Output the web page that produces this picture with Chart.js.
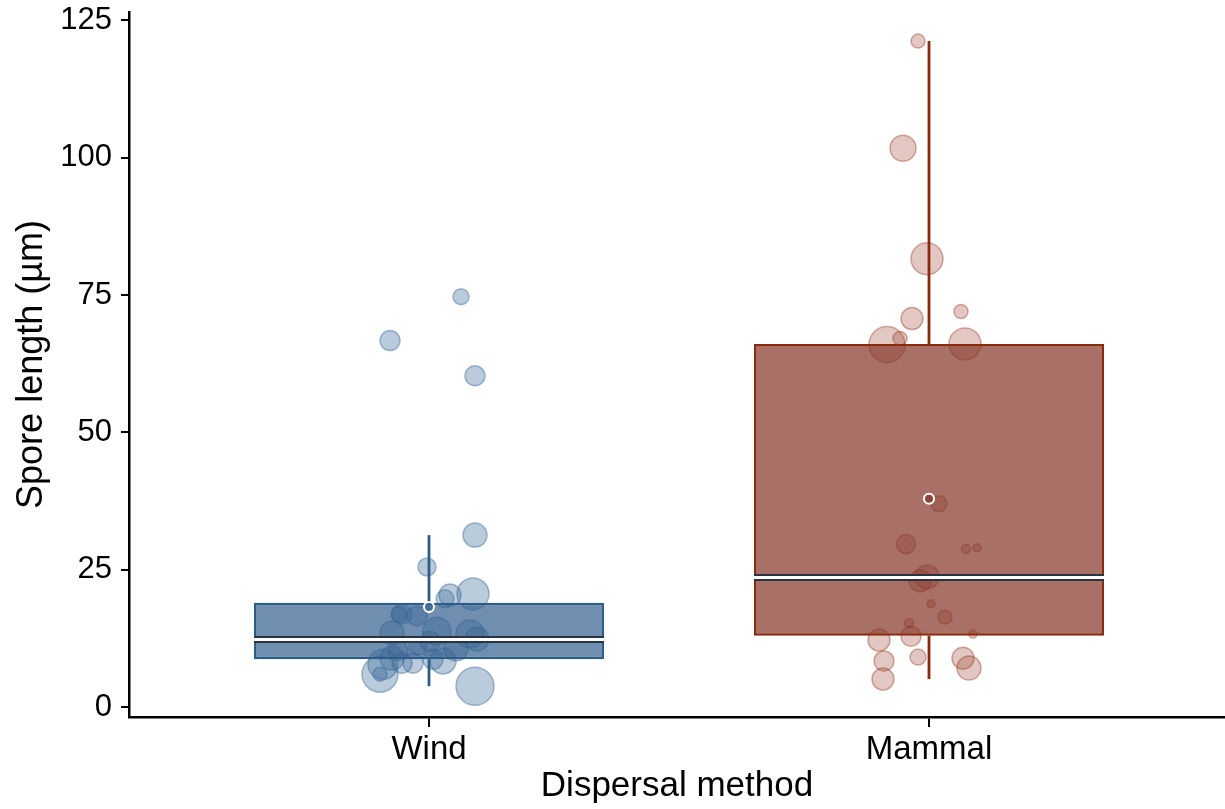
<!DOCTYPE html>
<html><head><meta charset="utf-8">
<script src="https://cdn.jsdelivr.net/npm/chart.js@4.4.1/dist/chart.umd.min.js"></script>
<style>html,body{margin:0;padding:0;background:#fff;overflow:hidden;} canvas{display:block;}</style>
</head><body>
<canvas id="c" width="1225" height="809"></canvas>
<script>
// ---- data ----
const categories = ['Wind', 'Mammal'];
const categoryPositions = [1, 2];
const yTicks = [0, 25, 50, 75, 100, 125];

// jittered individual observations (x = category position + jitter, y = spore length, size = point size)
const windX = [1.064, 0.922, 1.092, 1.092, 0.996, 1.088, 1.042, 1.032, 0.946, 0.976, 0.926, 1.016, 1.082, 1.096, 1.002, 0.908, 0.902, 0.902, 0.926, 0.968, 0.946, 1.028, 1.092, 0.978, 0.938, 1.008, 1.054, 0.940];
const windY = [74.7, 66.7, 60.3, 31.3, 25.5, 20.6, 20.4, 19.7, 16.9, 16.6, 13.5, 13.8, 13.3, 12.4, 12.0, 7.8, 6.0, 6.0, 8.9, 8.0, 8.0, 8.4, 3.8, 11.1, 10.2, 8.7, 10.6, 16.9];
const windSize = [8, 10, 10, 12, 9, 16, 11, 9, 10, 10, 12, 14, 14, 12, 10, 15, 18, 7, 12, 10, 10, 13, 19, 9, 10, 10, 12, 8];

const mammalX = [1.978, 1.948, 1.996, 1.966, 2.064, 1.916, 1.942, 2.072, 2.020, 1.954, 2.074, 2.096, 1.996, 1.982, 2.004, 2.032, 1.960, 1.900, 1.964, 2.088, 1.910, 1.978, 2.068, 2.080, 1.908];
const mammalY = [121.2, 101.7, 81.6, 70.7, 72.0, 66.0, 67.1, 66.1, 37.0, 29.7, 28.8, 29.0, 23.7, 23.0, 18.8, 16.4, 15.3, 12.2, 12.9, 13.3, 8.4, 9.1, 8.9, 7.1, 5.1];
const mammalSize = [7, 13, 16, 11, 7, 18, 7, 16, 8, 9.5, 4.5, 4, 12, 11, 4, 7, 4.5, 11, 10, 4, 10, 8, 11, 12, 11];

// box-plot summaries per category
const boxMin    = [3.8, 5.1];
const boxQ1     = [8.7, 13.0];
const boxMedian = [12.3, 23.6];
const boxQ3     = [19.0, 66.1];
const boxMax    = [31.3, 121.2];
const boxMean   = [18.2, 37.9];

// ---- styles ----
const FONT = "'Liberation Sans', Arial, Helvetica, sans-serif";
const edgeColors  = ['#2c5d88', '#8b2a0c'];
const boxFills    = ['rgba(51,96,142,0.70)', 'rgba(131,51,39,0.70)'];
const pointFills  = ['rgba(58,106,152,0.35)', 'rgba(150,55,35,0.28)'];
const pointEdges  = ['rgba(58,106,152,0.45)', 'rgba(150,55,35,0.40)'];
const BOX_HALF = 0.35;

const toPts = (xs, ys) => xs.map((x, i) => ({x: x, y: ys[i]}));

const datasets = [];
// mean markers (on top)
datasets.push({
  type: 'scatter', order: 1,
  data: toPts(categoryPositions, boxMean),
  pointRadius: 5, pointBorderWidth: 2,
  pointBackgroundColor: boxFills, pointBorderColor: '#ffffff'
});
categoryPositions.forEach((c, i) => {
  // median: white line with dark edges
  datasets.push({type: 'line', order: 2, data: [{x: c - BOX_HALF, y: boxMedian[i]}, {x: c + BOX_HALF, y: boxMedian[i]}],
    borderColor: '#ffffff', borderWidth: 3, pointRadius: 0, borderCapStyle: 'butt'});
  datasets.push({type: 'line', order: 3, data: [{x: c - BOX_HALF, y: boxMedian[i]}, {x: c + BOX_HALF, y: boxMedian[i]}],
    borderColor: '#2a3440', borderWidth: 7, pointRadius: 0, borderCapStyle: 'butt'});
  // whiskers
  datasets.push({type: 'line', order: 4, data: [{x: c, y: boxMin[i]}, {x: c, y: boxQ1[i]}],
    borderColor: edgeColors[i], borderWidth: 2.8, pointRadius: 0, borderCapStyle: 'butt'});
  datasets.push({type: 'line', order: 4, data: [{x: c, y: boxQ3[i]}, {x: c, y: boxMax[i]}],
    borderColor: edgeColors[i], borderWidth: 2.8, pointRadius: 0, borderCapStyle: 'butt'});
});
// boxes
datasets.push({
  type: 'bar', order: 5, grouped: false,
  data: categoryPositions.map((c, i) => ({x: c, y: [boxQ1[i], boxQ3[i]]})),
  backgroundColor: boxFills, borderColor: edgeColors, borderWidth: 2.5, borderSkipped: false,
  barPercentage: 0.7, categoryPercentage: 1.0
});
// raw observations (below boxes)
datasets.push({type: 'scatter', order: 10, data: toPts(windX, windY), pointRadius: windSize,
  pointBackgroundColor: pointFills[0], pointBorderColor: pointEdges[0], pointBorderWidth: 1.5});
datasets.push({type: 'scatter', order: 10, data: toPts(mammalX, mammalY), pointRadius: mammalSize,
  pointBackgroundColor: pointFills[1], pointBorderColor: pointEdges[1], pointBorderWidth: 1.5});

new Chart(document.getElementById('c'), {
  type: 'scatter',
  data: {datasets: datasets},
  options: {
    responsive: false, animation: false, devicePixelRatio: 1,
    layout: {autoPadding: false, padding: {top: 12, left: 0, right: 0, bottom: 0}},
    plugins: {legend: {display: false}, tooltip: {enabled: false}},
    elements: {line: {tension: 0}},
    scales: {
      x: {
        type: 'linear', min: 0.4, max: 2.592, offset: false,
        afterBuildTicks: s => { s.ticks = categoryPositions.map(v => ({value: v})); },
        ticks: {callback: v => categories[categoryPositions.indexOf(v)], color: '#000',
          font: {size: 33, family: FONT}, padding: 3, maxRotation: 0, autoSkip: false},
        grid: {display: true, offset: false, drawOnChartArea: false, drawTicks: true, tickLength: 10, color: '#000', lineWidth: 2},
        border: {display: true, color: '#000', width: 2.5},
        title: {display: true, text: 'Dispersal method', color: '#000', font: {size: 35, family: FONT}, padding: {top: 0, bottom: 2}},
        afterFit: s => { s.height = 92; s.paddingLeft = 0; s.paddingRight = 0; }
      },
      y: {
        type: 'linear', min: -1.8, max: 126.5,
        afterBuildTicks: s => { s.ticks = yTicks.map(v => ({value: v})); },
        ticks: {color: '#000', font: {size: 31, family: FONT}, padding: 9},
        grid: {display: true, drawOnChartArea: false, drawTicks: true, tickLength: 8, color: '#000', lineWidth: 2},
        border: {display: true, color: '#000', width: 2.5},
        title: {display: true, text: 'Spore length (µm)', color: '#000', font: {size: 36, family: FONT}, padding: {top: 10, bottom: 0}},
        afterFit: s => { s.width = 129; s.paddingTop = 0; s.paddingBottom = 0; }
      }
    }
  }
});
</script>
</body></html>
